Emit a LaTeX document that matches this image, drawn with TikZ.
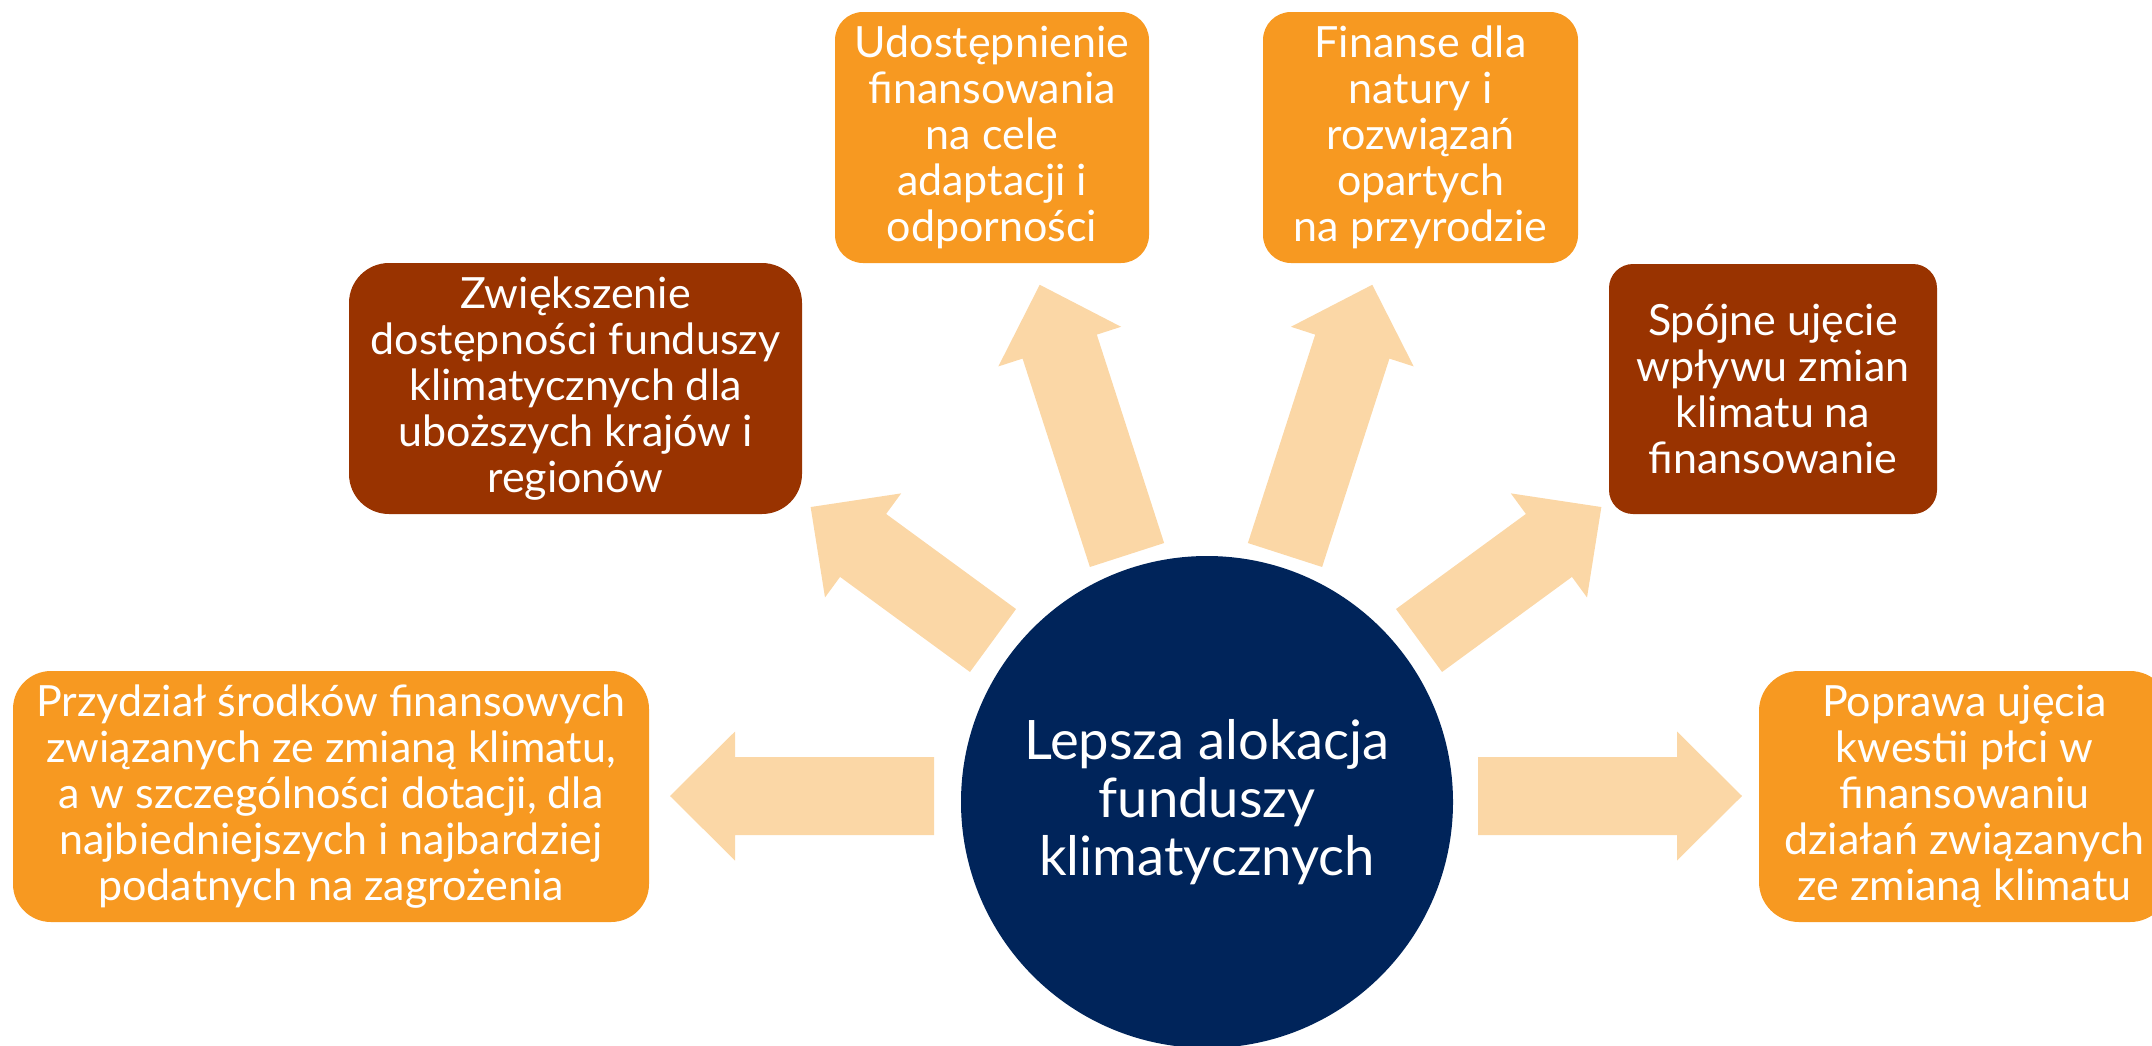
\documentclass[tikz,border=0pt]{standalone}
\usepackage{fontspec}
\setmainfont{Lato}
\definecolor{orangebox}{RGB}{247,153,33}
\definecolor{brownbox}{RGB}{153,51,0}
\definecolor{navycirc}{RGB}{0,36,90}
\definecolor{peach}{RGB}{251,215,166}
\tikzset{
  box/.style n args={3}{rectangle, rounded corners=#3, minimum width=#1, minimum height=#2,
    inner sep=0pt, text=white, align=center, font=\fontsize{21.5}{23}\selectfont},
  obox/.style n args={3}{box={#1}{#2}{#3}, fill=orangebox},
  bbox/.style n args={3}{box={#1}{#2}{#3}, fill=brownbox},
  pics/blockarrow/.style={code={
    \fill[peach] (0,-39) -- ({#1-65},-39) -- ({#1-65},-64.5) -- (#1,0)
      -- ({#1-65},64.5) -- ({#1-65},39) -- (0,39) -- cycle;}}
}
\begin{document}
\begin{tikzpicture}[x=0.5pt,y=-0.5pt]
\useasboundingbox (0,0) rectangle (2152,1045);
% arrows
\coordinate (t1) at (934,796);
\coordinate (t2) at (993,640.5);
\coordinate (t3) at (1127,555);
\coordinate (t4) at (1285,555);
\coordinate (t5) at (1419,640.5);
\coordinate (t6) at (1478,796);
\pic[rotate=180] at (t1) {blockarrow=264};
\pic[rotate=143.8] at (t2) {blockarrow=226};
\pic[rotate=107.9] at (t3) {blockarrow=284};
\pic[rotate=72.1] at (t4) {blockarrow=284};
\pic[rotate=36.2] at (t5) {blockarrow=226};
\pic[rotate=0] at (t6) {blockarrow=264};
% centre
\node[circle, fill=navycirc, minimum size=246pt, inner sep=0pt, text=white, align=center,
  font=\fontsize{27.2}{29}\selectfont] (c) at (1207,802)
  {Lepsza alokacja\\funduszy\\klimatycznych};
% boxes
\node[obox={318pt}{125.5pt}{19pt}] (b1) at (331,796.5)
  {Przydział środków finansowych\\związanych ze zmianą klimatu,\\a w szczególności dotacji, dla\\najbiedniejszych i najbardziej\\podatnych na zagrożenia};
\node[bbox={226.5pt}{125.5pt}{20pt}] (b2) at (575.5,388.5)
  {Zwiększenie\\dostępności funduszy\\klimatycznych dla\\uboższych krajów i\\regionów};
\node[obox={157pt}{125.5pt}{14pt}] (b3) at (992,137.5)
  {Udostępnienie\\finansowania\\na cele\\adaptacji i\\odporności};
\node[obox={157.5pt}{125.5pt}{14pt}] (b4) at (1420.5,137.5)
  {Finanse dla\\natury i\\rozwiązań\\opartych\\na przyrodzie};
\node[bbox={164pt}{125pt}{12pt}] (b5) at (1773,389)
  {Spójne ujęcie\\wpływu zmian\\klimatu na\\finansowanie};
\node[obox={205.5pt}{125.5pt}{20pt}] (b6) at (1964.5,796.5)
  {Poprawa ujęcia\\kwestii płci w\\finansowaniu\\działań związanych\\ze zmianą klimatu};
\end{tikzpicture}
\end{document}
